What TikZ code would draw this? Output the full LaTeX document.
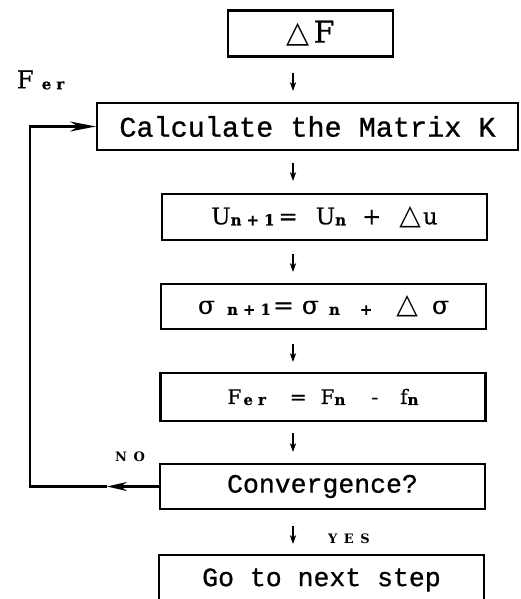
\documentclass[tikz,border=0pt]{standalone}
\usepackage{fontspec}
\usepackage{tikz}
\usetikzlibrary{arrows.meta}
\setmainfont[FakeBold=0.4]{DejaVu Serif}
\newfontfamily\typew[FakeBold=0.8]{Liberation Mono}
\newfontfamily\symfont{DejaVu Sans}
\newfontfamily\tagfont[LetterSpace=50]{DejaVu Serif}
\newcommand{\lowix}[1]{\raisebox{-1pt}{\fontsize{15}{15}\selectfont\bfseries #1}}
\newcommand{\tri}[1][28]{{\symfont\fontsize{#1}{#1}\selectfont △}}

\begin{document}
\begin{tikzpicture}[x=1pt,y=-1pt,
  box/.style={draw,line width=2.2pt,inner sep=0pt,minimum width=325pt,minimum height=46pt},
  flowarr/.style={-{Stealth[length=9pt,width=6.5pt]},line width=1.2pt},
  backarr/.style={line width=2.2pt},
  tag/.style={font=\tagfont\bfseries\fontsize{13}{13}\selectfont,inner sep=0pt}]
\useasboundingbox (0,0) rectangle (520,599);
\clip (0,0) rectangle (520,599);
\node[box,minimum width=165pt] (df) at (310.5,33.5)
  {\tri[30]\hspace{4pt}\fontsize{30}{30}\selectfont F};
\node[box,minimum width=421pt,minimum height=47pt,font=\typew\fontsize{28.5}{28.5}\selectfont] (calc) at (307.5,126.5)
  {Calculate the Matrix K};
\node[box] (upd) at (324.5,217)
  {\fontsize{23}{23}\selectfont U\lowix{n\hspace{5pt}+\hspace{5pt}1}\hspace{4pt}=\hspace{18pt}U\lowix{n}\hspace{16pt}+\hspace{18pt}\tri\hspace{2pt}u};
\node[box,minimum height=45pt] (sig) at (323.5,306.5)
  {\fontsize{25}{25}\selectfont σ\hspace{12pt}\lowix{n\hspace{5pt}+\hspace{5pt}1}\hspace{2pt}=\hspace{8pt}σ\hspace{10pt}\lowix{n}\hspace{20pt}\lowix{+}\hspace{24pt}\tri\hspace{14pt}σ};
\node[box,minimum height=48pt] (ferr) at (323,397)
  {\fontsize{20}{20}\selectfont F\hspace{2pt}\lowix{e\hspace{5pt}r}\hspace{24pt}=\hspace{14pt}F\lowix{n}\hspace{26pt}-\hspace{22pt}f\lowix{n}};
\node[box,minimum height=45pt,font=\typew\fontsize{26.5}{26.5}\selectfont] (conv) at (322.5,486.5)
  {Convergence?};
\node[box,minimum height=50pt,font=\typew\fontsize{26.5}{26.5}\selectfont] (go) at (321.5,580)
  {Go to next step};
\node[inner sep=0pt] (ferlab) at (40.5,80) {\fontsize{24.5}{24.5}\selectfont F\hspace{8pt}\lowix{e\hspace{5pt}r}};
\node[tag] (no) at (130,457) {NO};
\node[tag] (yes) at (349,539) {YES};
\coordinate (spine) at (293,0);
\foreach \a/\b/\s/\e in {df/calc/15/11, calc/upd/12/12, upd/sig/13/11,
    sig/ferr/14/10, ferr/conv/11/11, conv/go/16/10}
  \draw[flowarr,shorten <=\s pt,shorten >=\e pt] (\a.south -| spine) -- (\b.north -| spine);
\coordinate (nohead) at (107,486.5);
\draw[backarr,-{Stealth[length=20pt,width=9pt]}] (conv.west) -- (nohead);
\draw[backarr,-{Stealth[length=26pt,width=10pt]}] (nohead) -- (30,486.5) |- (calc.west);
\end{tikzpicture}
\end{document}
